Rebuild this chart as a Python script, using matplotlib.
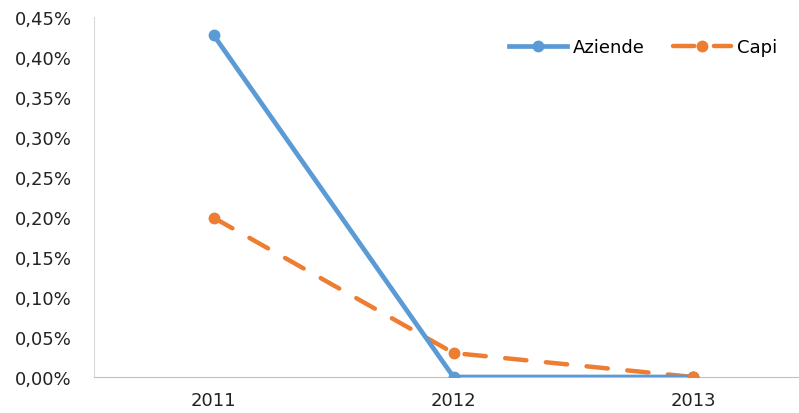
import numpy as np
import matplotlib.pyplot as plt
from matplotlib.ticker import FuncFormatter

anni = ["2011", "2012", "2013"]
aziende = [0.427, 0.0, 0.0]   # valori in %
capi = [0.199, 0.03, 0.0]

blu = "#5B9BD5"
arancio = "#ED7D31"

plt.rcParams['font.family'] = ['DejaVu Sans']

fig = plt.figure(figsize=(7.99, 4.14), dpi=100)
ax = fig.add_axes([94 / 799, 36 / 414, (813 - 94) / 799, (378 - 18) / 414])

x = np.arange(len(anni))
ax.plot(x, capi, color=arancio, lw=3.2, marker="o", ms=7.5, label="Capi",
        dashes=(4.8, 4.4), dash_capstyle="round", zorder=2)
ax.plot(x, aziende, color=blu, lw=3.4, marker="o", ms=7.5, label="Aziende",
        zorder=3)
# marcatore arancione del 2013 sopra la linea blu
ax.plot(x[-1:], capi[-1:], color=arancio, marker="o", ms=7.5, lw=0, zorder=4)

ax.set_xlim(-0.5, 2.5)
ax.set_ylim(0, 0.45)
ax.set_yticks(np.arange(0, 0.451, 0.05))
ax.yaxis.set_major_formatter(FuncFormatter(lambda v, p: f"{v:.2f}%".replace(".", ",")))
ax.set_xticks(x)
ax.set_xticklabels(anni)
ax.tick_params(length=0, labelsize=13, colors="#222222")
ax.tick_params(axis="y", pad=16)
ax.tick_params(axis="x", pad=10)

for s in ["top", "right"]:
    ax.spines[s].set_visible(False)
ax.spines["left"].set_color("#d9d9d9")
ax.spines["bottom"].set_color("#bfbfbf")

h, l = ax.get_legend_handles_labels()
ax.legend([h[1], h[0]], [l[1], l[0]], loc="upper right",
          bbox_to_anchor=((793 - 94) / 719, 0.987),
          ncol=2, frameon=False, fontsize=13, handlelength=3.2, columnspacing=1.6,
          handletextpad=0.3)

fig.savefig("out.png", dpi=100)
